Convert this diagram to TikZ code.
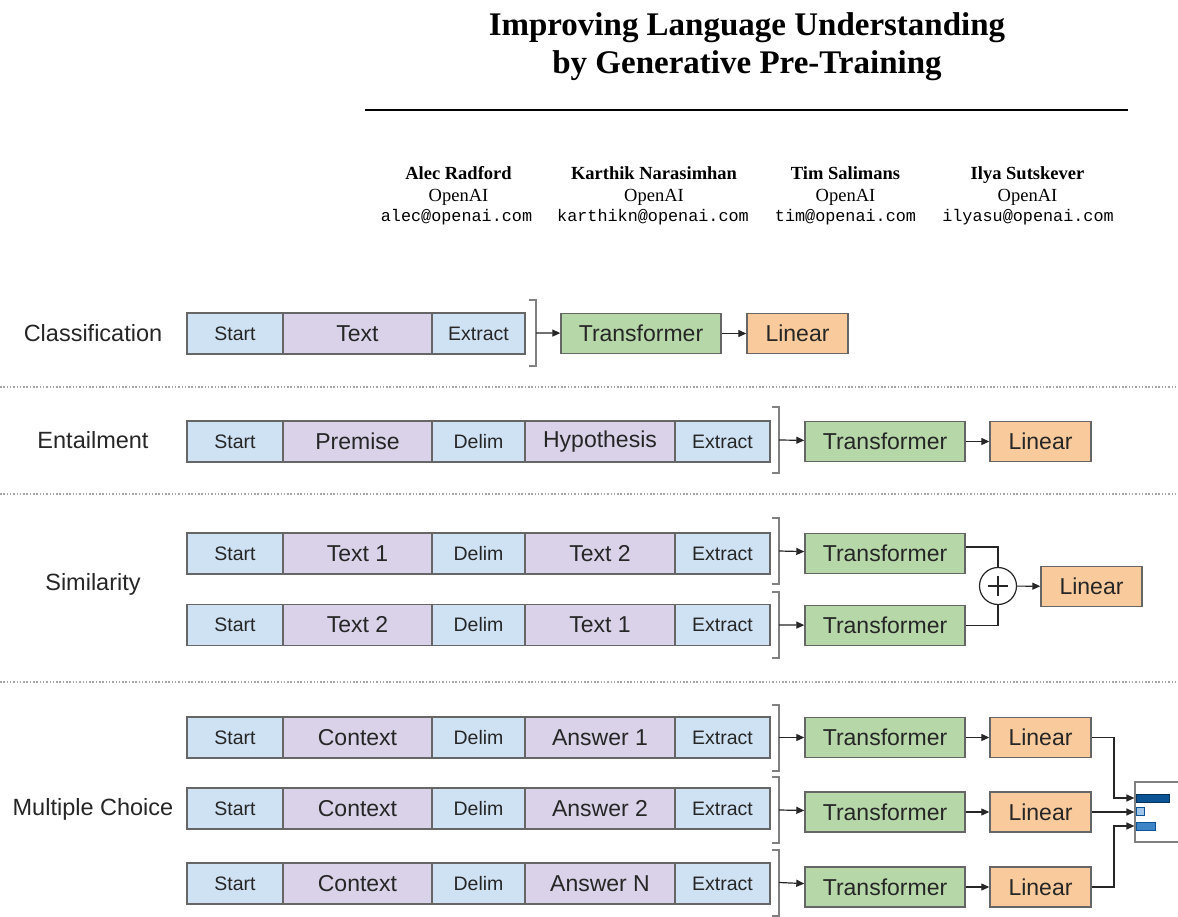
\documentclass[tikz,border=0pt]{standalone}
\usepackage{fontspec}
\setmainfont{Liberation Sans}
\newfontfamily\serifface{Liberation Serif}
\newfontfamily\mailface{Liberation Mono}
\usetikzlibrary{arrows.meta,calc}

\definecolor{tokblue}{HTML}{CFE2F3}
\definecolor{tokpurple}{HTML}{D9D2E9}
\definecolor{trgreen}{HTML}{B6D7A8}
\definecolor{linorange}{HTML}{F9CB9C}
\definecolor{edgegray}{HTML}{666666}
\definecolor{brkgray}{HTML}{808080}
\definecolor{inkgray}{HTML}{262626}
\definecolor{bardark}{HTML}{0B5394}
\definecolor{barmid}{HTML}{3D85C6}
\definecolor{barlight}{HTML}{9FC5E8}

\tikzset{
  seg/.style={draw=edgegray, line width=1.4pt, minimum height=41pt, inner sep=0pt,
              text=inkgray, anchor=center},
  small/.style={font=\fontsize{19.5}{22}\selectfont},
  big/.style={font=\fontsize{23}{26}\selectfont},
  blueseg/.style={seg, small, fill=tokblue},
  purpleseg/.style={seg, big, fill=tokpurple},
  trbox/.style={seg, big, fill=trgreen, minimum width=160pt, minimum height=40pt},
  linbox/.style={seg, big, fill=linorange, minimum width=101pt, minimum height=40pt},
  tasklabel/.style={font=\fontsize{23.5}{26}\selectfont, text=inkgray},
  brk/.style={draw=brkgray, line width=2pt},
  arr/.style={draw=inkgray, line width=1.2pt, -{Triangle[length=8pt,width=7pt]}},
  wire/.style={draw=inkgray, line width=1.2pt},
  sep/.style={draw=gray!70, line width=1.2pt, dash pattern=on 1.5pt off 1.8pt},
  author/.style={align=center, font=\serifface\fontsize{18.5}{21.5}\selectfont},
  mail/.style={font=\mailface\fontsize{16.8}{21.5}\selectfont},
}

% one input sequence: Start | first | Delim | second | Extract
\newcommand{\fiverow}[4]{%
  \node[blueseg, minimum width=96pt] (#1s) at (235,#2) {Start};
  \node[purpleseg, minimum width=149pt] (#1a) at (357.5,#2) {#3};
  \node[blueseg, minimum width=93pt] (#1d) at (478.5,#2) {Delim};
  \node[purpleseg, minimum width=150pt] (#1b) at (600,#2) {#4};
  \node[blueseg, minimum width=95pt] (#1e) at (722.5,#2) {Extract};
}
% closing bracket whose middle is the named coordinate #1
\newcommand{\closebrk}[3]{%
  \coordinate (#1) at (#2,#3);
  \draw[brk] (#1) ++(-7,-33) -- ++(7,0) -- ++(0,66) -- ++(-7,0);
}

\begin{document}
\begin{tikzpicture}[x=1pt, y=-1pt]
\clip (0,0) rectangle (1178,917);
\useasboundingbox (0,0) rectangle (1178,917);
\fill[white] (0,0) rectangle (1178,917);

% ---------- paper header ----------
\node[font=\serifface\bfseries\fontsize{33}{38}\selectfont, align=center] (title) at (747,47)
  {Improving Language Understanding\\by Generative Pre-Training};
\draw[line width=1.3pt] (365,110) -- (1128,110);

\node[author] (a1) at (458.5,186) {\textbf{Alec Radford}\\OpenAI};
\node[author] (a2) at (654,186) {\textbf{Karthik Narasimhan}\\OpenAI};
\node[author] (a3) at (845.5,186) {\textbf{Tim Salimans}\\OpenAI};
\node[author] (a4) at (1027.5,186) {\textbf{Ilya Sutskever}\\OpenAI};
\node[mail] (m1) at (456.5,217.5) {alec@openai.com};
\node[mail] (m2) at (653,217.5) {karthikn@openai.com};
\node[mail] (m3) at (845.5,217.5) {tim@openai.com};
\node[mail] (m4) at (1028,217.5) {ilyasu@openai.com};

% ---------- classification ----------
\node[tasklabel] (lc) at (93,333) {Classification};
\node[blueseg, minimum width=96pt] (cs) at (235,333.5) {Start};
\node[purpleseg, minimum width=149pt] (ct) at (357.5,333.5) {Text};
\node[blueseg, minimum width=93pt] (ce) at (478.5,333.5) {Extract};
\closebrk{cb}{536}{333}
\node[trbox] (ctr) at (641,333.5) {Transformer};
\node[linbox] (clin) at (797.5,333.5) {Linear};
\draw[arr] (cb) -- (ctr);
\draw[arr] (ctr) -- (clin);

\draw[sep] (0,387) -- (1178,387);

% ---------- entailment ----------
\node[tasklabel] (le) at (93,440) {Entailment};
\fiverow{e}{441.5}{Premise}{Hypothesis}
\closebrk{eb}{779}{440}
\node[trbox] (etr) at (885,441.5) {Transformer};
\node[linbox] (elin) at (1040.5,441.5) {Linear};
\draw[arr] (eb) -- (etr);
\draw[arr] (etr) -- (elin);

\draw[sep] (0,494) -- (1178,494);

% ---------- similarity ----------
\node[tasklabel] (ls) at (93,584) {Similarity};
\fiverow{sa}{553.5}{Text 1}{Text 2}
\fiverow{sb}{625}{Text 2}{Text 1}
\closebrk{sab}{779}{551}
\closebrk{sbb}{779}{625}
\node[trbox] (str1) at (885,553.5) {Transformer};
\node[trbox] (str2) at (885,625.5) {Transformer};
\node[draw=inkgray, line width=1.2pt, circle, minimum size=37pt, fill=white,
      path picture={\draw[line width=2pt] ($(path picture bounding box.center)+(-10,0)$) -- ++(20,0)
                    ($(path picture bounding box.center)+(0,-10)$) -- ++(0,20);}] (plus) at (998,586) {};
\node[linbox] (slin) at (1091.5,586.5) {Linear};
\draw[arr] (sab) -- (str1);
\draw[arr] (sbb) -- (str2);
\draw[wire] (str1.east |- 0,547) -| (plus.north);
\draw[wire] (str2.east) -| (plus.south);
\draw[arr] (plus) -- (slin);

\draw[sep] (0,682) -- (1178,682);

% ---------- multiple choice ----------
\node[tasklabel] (lm) at (93,809) {Multiple Choice};
\fiverow{ma}{737.5}{Context}{Answer 1}
\fiverow{mb}{808.5}{Context}{Answer 2}
\fiverow{mc}{883.5}{Context}{Answer N}
\closebrk{mab}{779}{737.5}
\closebrk{mbb}{779}{810}
\closebrk{mcb}{779}{882.5}
\node[trbox] (mtr1) at (885,737.5) {Transformer};
\node[trbox] (mtr2) at (885,812) {Transformer};
\node[trbox] (mtr3) at (885,887) {Transformer};
\node[linbox] (mlin1) at (1040.5,737.5) {Linear};
\node[linbox] (mlin2) at (1040.5,812) {Linear};
\node[linbox] (mlin3) at (1040.5,887) {Linear};
\draw[arr] (mab) -- (mtr1);
\draw[arr] (mbb) -- (mtr2);
\draw[arr] (mcb) -- (mtr3);
\draw[arr] (mtr1) -- (mlin1);
\draw[arr] (mtr2) -- (mlin2);
\draw[arr] (mtr3) -- (mlin3);
% softmax over the candidate answers
\node[draw=gray, line width=1.2pt, fill=white, minimum width=52pt, minimum height=60pt,
      inner sep=0pt] (soft) at (1161,812) {};
\fill[bardark, draw=bardark!60!black, line width=0.6pt] (1136,794) rectangle (1169,802);
\fill[barlight, draw=bardark, line width=0.6pt] (1136,807) rectangle (1144,815);
\fill[barmid, draw=bardark, line width=0.6pt] (1136,822) rectangle (1155,830);
\draw[arr] (mlin1.east) -- (1114,737.5) |- (soft.west |- 0,798);
\draw[arr] (mlin2.east) -- (soft.west |- mlin2.east);
\draw[arr] (mlin3.east) -- (1114,887) |- (soft.west |- 0,826);
\end{tikzpicture}
\end{document}
